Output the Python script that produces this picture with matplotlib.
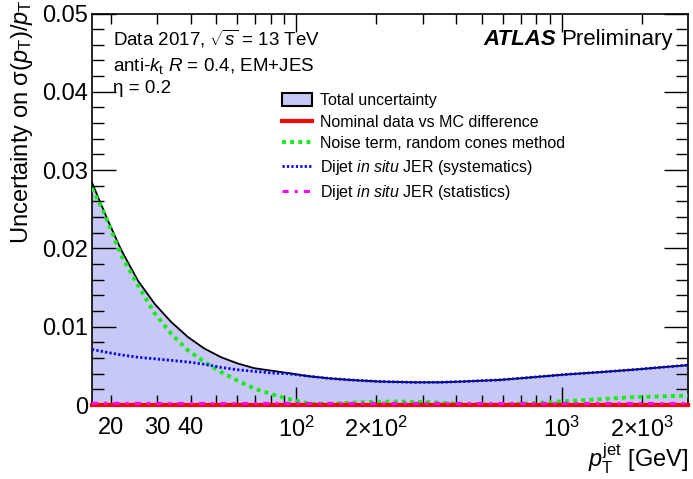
import numpy as np
import matplotlib
matplotlib.use("Agg")
import matplotlib.pyplot as plt
from matplotlib.patches import Patch
from matplotlib.lines import Line2D
from matplotlib.ticker import FixedLocator, FixedFormatter

plt.rcParams["font.family"] = ["Liberation Sans", "DejaVu Sans"]
plt.rcParams["mathtext.fontset"] = "custom"
plt.rcParams["mathtext.rm"] = "Liberation Sans"
plt.rcParams["mathtext.it"] = "Liberation Sans:italic"
plt.rcParams["mathtext.bf"] = "Liberation Sans:bold"

# values
pt_total = [17, 19.5, 21.9, 25.3, 29.3, 33.8, 39, 45.1, 52.1, 60.2, 69.5, 80, 92.7,
            110, 133, 160, 205, 274, 350, 423, 581, 691, 1035, 1400, 1843, 3000]
total = [0.0284, 0.0236, 0.0198, 0.0159, 0.0129, 0.0106, 0.0087, 0.0072, 0.0061, 0.0053,
         0.0047, 0.0044, 0.0041, 0.0037, 0.0034, 0.0032, 0.0030, 0.0029, 0.0029, 0.0030,
         0.0032, 0.0034, 0.0039, 0.0042, 0.0045, 0.0051]
insitu_syst = [0.0071, 0.0067, 0.0064, 0.0061, 0.0059, 0.0057, 0.0055, 0.0052, 0.0048, 0.0045,
               0.0043, 0.0041, 0.0040, 0.0037, 0.0034, 0.0032, 0.0030, 0.0029, 0.0029, 0.0030,
               0.0032, 0.0034, 0.0039, 0.0042, 0.0045, 0.0051]

pt_noise = [17, 18.8, 21.9, 25.3, 29.3, 33.8, 39, 45.1, 52.1, 60.2, 69.5, 80.3, 92.7,
            103, 115, 133, 178, 238, 317, 423, 565, 775, 1035, 1381, 1843, 3000]
noise = [0.0277, 0.0247, 0.0191, 0.0153, 0.0117, 0.0091, 0.0070, 0.0055, 0.0042, 0.0031,
         0.0021, 0.0014, 0.0008, 0.00045, 0.00015, 0.00015, 0.00036, 0.00045, 0.00036, 0.00015,
         0.00003, 0.00023, 0.00049, 0.00074, 0.0010, 0.0012]

pt_flat = [17, 50, 200, 1000, 3000]
insitu_stat = [0.00022, 0.0002, 0.0002, 0.0002, 0.0002]
nominal = [0, 0, 0, 0, 0]

labels = ["Total uncertainty",
          "Nominal data vs MC difference",
          "Noise term, random cones method",
          "Dijet $\\mathit{in\\ situ}$ JER (systematics)",
          "Dijet $\\mathit{in\\ situ}$ JER (statistics)"]

major_x = [100, 1000]
major_x_labels = ["$10^{2}$", "$10^{3}$"]
minor_x = [20, 30, 40, 50, 60, 70, 80, 90, 200, 300, 400, 500, 600, 700, 800, 900, 2000]
minor_x_labels = ["20", "30", "40", "", "", "", "", "", "$2{\\times}10^{2}$",
                  "", "", "", "", "", "", "", "$2{\\times}10^{3}$"]

fill_col = "#c8c8f7"

fig = plt.figure(figsize=(6.93, 4.79), dpi=100)
W, H = 693, 479
ax = fig.add_axes([92 / W, (H - 405) / H, (688 - 92) / W, (405 - 13.5) / H])

ax.fill_between(pt_total, 0, total, color=fill_col, lw=0, zorder=1)
ax.plot(pt_total, total, color="black", lw=1.3, zorder=3)
ax.plot(pt_noise, noise, color="#11ee11", lw=2.8, ls=(0, (1, 1.1)), zorder=4)
ax.plot(pt_total, insitu_syst, color="#0000ff", lw=2.0, ls=(0, (0.8, 0.8)), zorder=5)
ax.plot(pt_flat, nominal, color="#ff0000", lw=3, zorder=6, clip_on=False)
ax.plot(pt_flat, insitu_stat, color="#ff00ff", lw=2.2, ls=(0, (2, 2, 1, 2)), zorder=7)

ax.set_xscale("log")
ax.set_xlim(17, 2990)
ax.set_ylim(0, 0.05)

ax.xaxis.set_major_locator(FixedLocator(major_x))
ax.xaxis.set_major_formatter(FixedFormatter(major_x_labels))
ax.xaxis.set_minor_locator(FixedLocator(minor_x))
ax.xaxis.set_minor_formatter(FixedFormatter(minor_x_labels))
ax.set_yticks([0, 0.01, 0.02, 0.03, 0.04, 0.05])
ax.set_yticklabels(["0", "0.01", "0.02", "0.03", "0.04", "0.05"])
ax.yaxis.set_minor_locator(FixedLocator(np.arange(0, 0.0501, 0.002)))

ax.tick_params(axis="both", which="both", direction="in", top=True, right=True,
               labelsize=17, width=1)
ax.tick_params(axis="y", which="major", length=17, pad=3)
ax.tick_params(axis="y", which="minor", length=8.5)
ax.tick_params(axis="x", which="major", length=13, pad=8.5)
ax.tick_params(axis="x", which="minor", length=7, pad=8.5)
for s in ax.spines.values():
    s.set_linewidth(1.2)

ax.set_ylabel("Uncertainty on σ($p_{\\mathrm{T}}$)/$p_{\\mathrm{T}}$", fontsize=17,
              ha="right")
ax.yaxis.set_label_coords(-0.095, 1.035)
ax.set_xlabel("$p_{\\mathrm{T}}^{\\mathrm{jet}}$ [GeV]", fontsize=17, ha="right")
ax.xaxis.set_label_coords(1.0, -0.094)

fig.text(113 / W, 1 - 45 / H, "Data 2017, $\\sqrt{s}$ = 13 TeV", fontsize=13.5,
         va="baseline")
fig.text(113 / W, 1 - 70.7 / H, "anti-$k_{\\mathrm{t}}$ $R$ = 0.4, EM+JES", fontsize=13.5,
         va="baseline")
fig.text(113 / W, 1 - 93.3 / H, "η = 0.2", fontsize=13.5, va="baseline")
fig.text(483 / W, 1 - 45 / H, "ATLAS", fontsize=16, fontweight="bold", fontstyle="italic",
         va="baseline")
fig.text(673 / W, 1 - 45 / H, "Preliminary", fontsize=16, ha="right", va="baseline")

handles = [Patch(facecolor=fill_col, edgecolor="black", lw=1.5),
           Line2D([], [], color="#ff0000", lw=3),
           Line2D([], [], color="#11ee11", lw=2.8, ls=(0, (1, 1.1))),
           Line2D([], [], color="#0000ff", lw=2.0, ls=(0, (0.8, 0.8))),
           Line2D([], [], color="#ff00ff", lw=2.2, ls=(0, (2, 2, 1, 2)))]
ax.legend(handles, labels, loc="upper left", bbox_to_anchor=(282 / W, 1 - 93 / H),
          bbox_transform=fig.transFigure, frameon=False, fontsize=11.5,
          handlelength=1.85, handleheight=0.9, handletextpad=0.5, labelspacing=0.4,
          borderpad=0, borderaxespad=0)

fig.savefig("out.png", dpi=100)
